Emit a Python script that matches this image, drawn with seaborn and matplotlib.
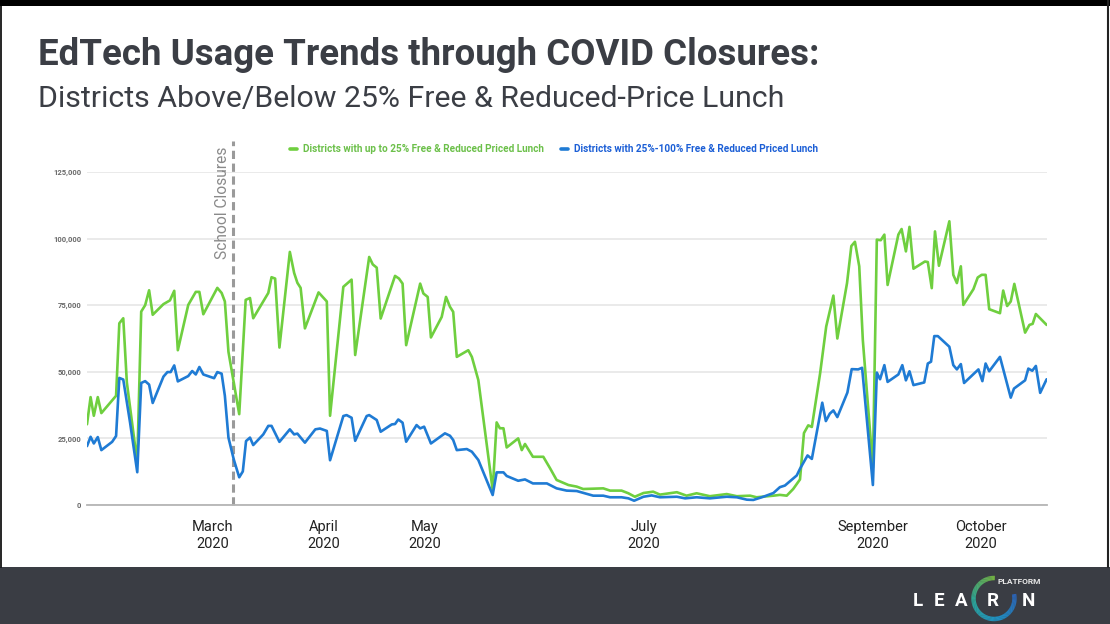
import numpy as np
import pandas as pd
import matplotlib
matplotlib.use("Agg")
import matplotlib.pyplot as plt
import seaborn as sns
from matplotlib.collections import LineCollection
from matplotlib.colors import LinearSegmentedColormap
from matplotlib.patches import Rectangle

# ---------------- data (days since late January 2020, users in thousands) ----------------
low_frl_days = [0, 1.0, 1.9, 3.0, 4.0, 8.1, 9.0, 10.1, 11.1, 14.0,
                15.1, 16.2, 17.3, 18.3, 21.3, 23.1, 24.3, 25.3, 28.2, 30.3,
                31.3, 32.4, 36.3, 37.5, 38.4, 39.4, 42.4, 44.2, 45.4, 46.3,
                49.1, 50.5, 51.4, 52.4, 53.6, 56.5, 57.7, 58.6, 59.5, 60.7,
                64.5, 66.8, 67.7, 71.4, 73.7, 74.7, 78.6, 79.6, 80.7, 81.8,
                85.8, 86.9, 87.9, 88.9, 92.8, 93.7, 94.9, 95.8, 98.8, 100.0,
                101.1, 102.0, 103.0, 106.2, 107.2, 109.0, 113.0, 114.1, 115.0, 116.0,
                116.9, 120.1, 121.1, 122.0, 124.2, 127.1, 129.0, 130.8, 134.1, 136.4,
                138.2, 143.8, 145.7, 148.9, 150.8, 152.6, 155.0, 157.7, 159.6, 164.3,
                167.0, 169.8, 173.5, 178.2, 181.0, 184.7, 186.5, 191.2, 193.0, 194.9,
                196.7, 198.6, 199.7, 200.9, 201.9, 204.2, 205.9, 207.9, 209.0, 211.7,
                212.9, 213.9, 215.1, 216.1, 218.9, 220.0, 221.1, 222.1, 223.0, 226.0,
                226.9, 228.1, 229.1, 230.2, 233.4, 234.2, 235.3, 236.2, 237.3, 240.2,
                241.3, 242.3, 243.4, 244.1, 246.9, 248.1, 249.2, 250.3, 251.3, 254.3,
                255.2, 256.3, 257.3, 258.3, 261.3, 262.5, 263.4, 264.3, 267.3]
low_frl_users_k = [30.3, 40.5, 33.5, 40.5, 34.5, 41, 68.2, 70.1, 46, 15.8,
                   72.6, 75, 80.6, 71.4, 75.4, 76.8, 80.4, 58.1, 75.1, 80,
                   80, 71.6, 81.5, 79.6, 76.4, 57.5, 34.1, 77, 77.7, 70.1,
                   76.4, 79.6, 85.5, 85, 59.1, 95, 87.1, 83.4, 81.5, 66.3,
                   79.8, 76.4, 33.5, 81.9, 84.6, 56.3, 93.1, 90.3, 89.1, 70,
                   86, 85, 83.1, 60, 83.1, 79.4, 78.1, 62.9, 70.6, 78.1,
                   74.4, 72.5, 55.6, 58.1, 55.6, 46.9, 5.6, 31, 28.8, 28.8,
                   21.6, 25, 20.6, 22.9, 18.1, 18.1, 13.75, 9.4, 7.5, 6.9,
                   6.0, 6.25, 5.4, 5.4, 4.4, 3.1, 4.5, 5.0, 3.9, 4.8,
                   3.5, 4.4, 3.3, 4.1, 3.3, 3.5, 2.9, 3.5, 3.8, 3.5,
                   6.0, 9.6, 27, 29.9, 29.3, 49.4, 67, 78.6, 62.5, 83.3,
                   97.2, 98.8, 89.6, 61.9, 14, 99.6, 99.4, 101.5, 82.6, 101.5,
                   103.6, 95.2, 104.4, 88.7, 91.4, 91.2, 81.4, 102.7, 89.8, 106.5,
                   86.4, 83.3, 89.6, 75.1, 81, 85.4, 86.4, 86.4, 73.5, 72,
                   80.5, 74.7, 76.4, 83, 64.7, 67.6, 68, 71.7, 67.6]

high_frl_days = [0.0, 1.0, 1.9, 3.0, 4.0, 7.0, 8.1, 9.0, 10.1, 12.0,
                 14.0, 15.1, 16.2, 17.3, 18.3, 21.3, 22.4, 23.3, 24.3, 25.3,
                 28.2, 29.3, 30.3, 31.3, 32.4, 35.4, 36.3, 37.5, 38.4, 39.4,
                 40.9, 42.4, 43.4, 44.3, 45.4, 46.3, 49.1, 50.5, 51.4, 53.6,
                 56.5, 57.7, 58.6, 60.7, 63.6, 64.9, 66.8, 67.7, 71.4, 72.3,
                 73.7, 74.7, 77.9, 78.6, 80.7, 81.8, 84.9, 85.8, 86.7, 87.9,
                 88.9, 91.8, 92.8, 93.9, 95.8, 99.7, 101.1, 102.0, 103.0, 105.8,
                 107.2, 109.0, 113.0, 114.1, 116.0, 116.9, 120.1, 122.0, 124.2, 128.1,
                 130.8, 133.6, 136.4, 141.0, 143.8, 145.7, 148.9, 150.8, 152.4, 155.0,
                 157.3, 159.6, 164.3, 166.6, 169.8, 173.5, 178.2, 181.0, 183.8, 185.6,
                 188.4, 191.2, 193.0, 194.4, 197.7, 198.6, 200.7, 201.9, 204.8, 205.8,
                 206.9, 207.9, 209.0, 211.8, 213.0, 214.8, 215.9, 218.9, 220.0, 220.9,
                 222.1, 223.0, 226.0, 227.1, 228.1, 229.1, 230.2, 233.2, 234.2, 235.1,
                 236.0, 237.0, 240.2, 241.3, 242.3, 243.4, 244.3, 248.3, 249.4, 250.3,
                 251.3, 254.3, 257.3, 258.2, 261.3, 262.2, 263.3, 264.3, 265.5, 267.3]
high_frl_users_k = [22.1, 25.6, 23.1, 25.5, 20.6, 23.7, 25.9, 47.7, 47.1, 30.9,
                    12.3, 45.8, 46.5, 45.2, 38.3, 48.2, 49.9, 49.9, 52.4, 46.4,
                    48.4, 50.3, 49, 51.8, 49, 47.6, 49.9, 49.3, 41, 25.3,
                    17, 10.4, 12.6, 24, 25.3, 22.5, 26.5, 29.7, 29.7, 23.7,
                    28.4, 26.5, 26.8, 23.4, 28.4, 28.7, 27.8, 16.8, 33.4, 33.75,
                    32.75, 24.1, 33.4, 33.75, 31.9, 27.5, 30.25, 30.4, 32.1, 30.9,
                    23.75, 30, 28.75, 29.4, 23.1, 26.9, 26, 24.4, 20.6, 21,
                    20, 16.9, 3.75, 12.25, 12.25, 10.9, 9.1, 9.6, 8.1, 8.1,
                    6.25, 5.4, 5.25, 3.5, 3.5, 2.9, 2.9, 2.5, 1.6, 3.1,
                    3.6, 2.9, 3.1, 2.5, 2.9, 2.5, 3.1, 2.9, 2.0, 1.9,
                    3.1, 4.5, 6.7, 7.3, 11.1, 13.6, 18.6, 17.3, 38.4, 31.5,
                    34.3, 35.5, 33, 42.2, 51, 50.9, 51.5, 7.5, 49.7, 47.2,
                    52.5, 46.2, 49, 52.5, 46.8, 50.2, 45, 46, 53.1, 53.8,
                    63.4, 63.4, 59.4, 52.5, 50.9, 52.9, 45.8, 50.9, 46.5, 53.1,
                    50.2, 55.6, 40.3, 43.7, 46.8, 51.2, 50.4, 52.2, 42.1, 47.2]

series_names = ["Districts with up to 25% Free & Reduced Priced Lunch",
                "Districts with 25%-100% Free & Reduced Priced Lunch"]
month_tick_days = [35, 66, 94, 155, 219, 249]
month_tick_labels = ["March\n2020", "April\n2020", "May\n2020",
                     "July\n2020", "September\n2020", "October\n2020"]
y_ticks = [0, 25000, 50000, 75000, 100000, 125000]
closure_day = 40.7
closure_label = "School Closures"
title = "EdTech Usage Trends through COVID Closures:"
subtitle = "Districts Above/Below 25% Free & Reduced-Price Lunch"

# ---------------- styling ----------------
GREEN = "#6fcf3f"
BLUE = "#1f7bd4"
GREEN_TXT = "#6cc04a"
BLUE_TXT = "#1c5fd6"
DARK = "#3b3e45"

sns.set_theme(style="white")
plt.rcParams["font.family"] = ["Roboto", "DejaVu Sans"]

df = pd.concat([
    pd.DataFrame({"day": low_frl_days, "users": np.array(low_frl_users_k) * 1000,
                  "series": series_names[0]}),
    pd.DataFrame({"day": high_frl_days, "users": np.array(high_frl_users_k) * 1000,
                  "series": series_names[1]}),
], ignore_index=True)

W, H = 1110, 624
fig = plt.figure(figsize=(W / 100, H / 100), dpi=100)
fig.patch.set_facecolor("white")

# decoration layer in pixel units
deco = fig.add_axes([0, 0, 1, 1], zorder=0)
deco.set_xlim(0, W)
deco.set_ylim(H, 0)
deco.axis("off")
deco.add_patch(Rectangle((0, 567), W, H - 567, color="#3a3d44", lw=0))
deco.add_patch(Rectangle((0, 0), W, 6, color="black", lw=0))
deco.plot([0.8, 0.8], [0, 567], color="black", lw=1.2)
deco.plot([1107.5, 1107.5], [0, 567], color="#222222", lw=1.5)
deco.text(38, 65, title, fontsize=26.4, fontweight="bold", color=DARK, va="baseline")
deco.text(38, 107, subtitle, fontsize=21.8, color=DARK, va="baseline")

# logo
for ch, xc in zip(["L", "E", "A", "R", "N"], [917.5, 939, 961.5, 993, 1028.5]):
    deco.text(xc, 606, ch, fontsize=13.5, fontweight="bold", color="white",
              ha="center", va="baseline")
deco.text(997, 583.5, "PLATFORM", fontsize=6, fontweight="bold", color="#e8e8e8",
          va="baseline")
ang = np.linspace(np.deg2rad(88), np.deg2rad(372), 120)
cx, cy, r = 994, 598.5, 20.5
px = cx + r * np.cos(ang)
py = cy - r * np.sin(ang)
pts = np.column_stack([px, py]).reshape(-1, 1, 2)
segs = np.concatenate([pts[:-1], pts[1:]], axis=1)
cmap = LinearSegmentedColormap.from_list("logo", ["#7cc242", "#2bb3a0", "#1b9fd6", "#2a67c4"])
lc = LineCollection(segs, colors=cmap(np.linspace(0, 1, len(segs))), linewidths=3.2,
                    capstyle="butt")
deco.add_collection(lc)

# main chart
ax = fig.add_axes([87 / W, 1 - 505 / H, (1047 - 87) / W, 333 / H], zorder=2)
ax.patch.set_alpha(0)
sns.lineplot(data=df, x="day", y="users", hue="series", hue_order=series_names,
             palette=[GREEN, BLUE], estimator=None, sort=False, linewidth=1.9, ax=ax)

ax.set_xlim(0, 267.4)
ax.set_ylim(0, 125000)
ax.set_yticks(y_ticks)
ax.set_yticklabels([f"{v:,}" for v in y_ticks], fontsize=5.5, fontweight="bold",
                   color="#6a6a6a")
ax.set_xticks(month_tick_days)
ax.set_xticklabels(month_tick_labels, fontsize=10.5, color="#222222", linespacing=1.25)
ax.tick_params(axis="both", length=0)
ax.tick_params(axis="x", pad=11)
ax.tick_params(axis="y", pad=4)
ax.set_xlabel("")
ax.set_ylabel("")
ax.yaxis.grid(True, color="#e4e4e4", lw=1.1)
ax.set_axisbelow(True)
for s in ["top", "right", "left"]:
    ax.spines[s].set_visible(False)
ax.spines["bottom"].set_color("#b5b5b5")
ax.spines["bottom"].set_linewidth(1.3)

# school closure marker
ax.axvline(closure_day, ymin=0, ymax=(505 - 141) / 333, color="#9a9a9a", lw=2.2,
           ls=(0, (2.7, 1.5)), clip_on=False, zorder=1)
ax.text(closure_day - 1.0, 92500, closure_label, rotation=90, fontsize=11.2,
        color="#8a8a8a", ha="right", va="bottom", clip_on=False)

# legend
handles, labels = ax.get_legend_handles_labels()
ax.get_legend().remove()
leg = fig.legend(handles, labels, loc="center", bbox_to_anchor=(554 / W, 1 - 149 / H),
                 ncol=2, frameon=False, handlelength=0.7, handletextpad=0.6,
                 columnspacing=1.8, prop={"family": "Roboto", "weight": "bold", "size": 7.2})
for txt, col in zip(leg.get_texts(), [GREEN_TXT, BLUE_TXT]):
    txt.set_color(col)
for h in leg.legend_handles:
    h.set_linewidth(2.6)

fig.savefig("out.png", dpi=100, facecolor="white")
